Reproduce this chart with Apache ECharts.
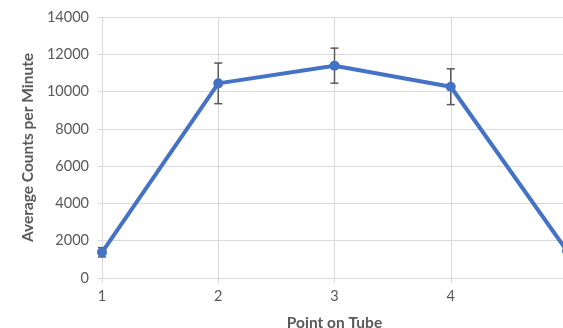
<!DOCTYPE html>
<html>
<head>
<meta charset="utf-8">
<script src="https://cdn.jsdelivr.net/npm/echarts@6/dist/echarts.min.js"></script>
<style>
html,body{margin:0;padding:0;background:#fff;}
#c{width:563px;height:328px;}
</style>
</head>
<body>
<div id="c"></div>
<script>
const points = [1, 2, 3, 4, 5];
const counts = [1380, 10440, 11390, 10260, 1450];
const errors = [250, 1090, 940, 960, 250];
const yTicks = [0, 2000, 4000, 6000, 8000, 10000, 12000, 14000];

const lineData = points.map((p, i) => [p, counts[i]]);
const errData = points.map((p, i) => [p, counts[i] - errors[i], counts[i] + errors[i]]);

const chart = echarts.init(document.getElementById('c'), null, {renderer: 'canvas'});
const font = 'Lato, "Open Sans", sans-serif';
chart.setOption({
  animation: false,
  grid: {left: 102, top: 17, width: 465, height: 261, containLabel: false, outerBoundsMode: 'none'},
  xAxis: {
    type: 'value', min: 1, max: 5, interval: 1,
    name: 'Point on Tube', nameLocation: 'middle', nameGap: 37,
    nameTextStyle: {color: '#595959', fontSize: 15.5, fontWeight: 'bold', fontFamily: font},
    axisLine: {show: true, lineStyle: {color: '#d9d9d9', width: 1}},
    axisTick: {show: true, length: 5, lineStyle: {color: '#d9d9d9'}},
    axisLabel: {color: '#595959', fontSize: 14.5, fontFamily: font, margin: 11,
      formatter: v => (v >= 5 ? '' : String(v))},
    splitLine: {show: true, lineStyle: {color: '#d9d9d9', width: 1}}
  },
  yAxis: {
    type: 'value', min: yTicks[0], max: yTicks[yTicks.length - 1], interval: 2000,
    name: 'Average Counts per Minute', nameLocation: 'middle', nameGap: 66,
    nameTextStyle: {color: '#595959', fontSize: 15.5, fontWeight: 'bold', fontFamily: font},
    axisLine: {show: false},
    axisTick: {show: true, length: 4, lineStyle: {color: '#d9d9d9'}},
    axisLabel: {color: '#595959', fontSize: 14.5, fontFamily: font, margin: 13,
      formatter: v => String(v)},
    splitLine: {show: true, lineStyle: {color: '#d9d9d9', width: 1}}
  },
  series: [
    {
      type: 'line', data: lineData, symbol: 'circle', symbolSize: 10,
      lineStyle: {color: '#4472C4', width: 4},
      itemStyle: {color: '#4472C4'},
      clip: false, z: 3
    },
    {
      type: 'custom', data: errData, z: 2,
      renderItem: function (params, api) {
        const x = api.value(0);
        const lo = api.coord([x, api.value(1)]);
        const hi = api.coord([x, api.value(2)]);
        const cap = 4;
        const style = {stroke: '#595959', lineWidth: 1.5};
        return {
          type: 'group',
          children: [
            {type: 'line', shape: {x1: lo[0], y1: lo[1], x2: hi[0], y2: hi[1]}, style: style},
            {type: 'line', shape: {x1: lo[0] - cap, y1: lo[1], x2: lo[0] + cap, y2: lo[1]}, style: style},
            {type: 'line', shape: {x1: hi[0] - cap, y1: hi[1], x2: hi[0] + cap, y2: hi[1]}, style: style}
          ]
        };
      }
    }
  ]
});
</script>
</body>
</html>
